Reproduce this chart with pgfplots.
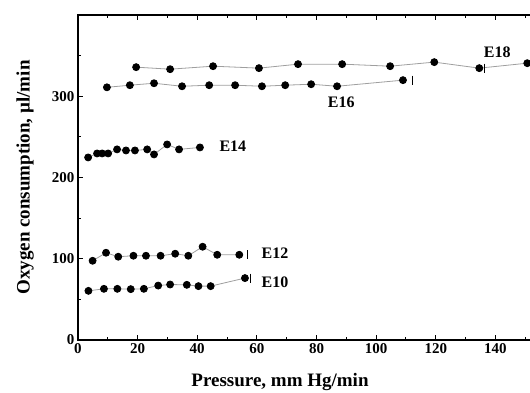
\documentclass[border=0pt]{standalone}
\usepackage{fontspec}
\setmainfont{Liberation Serif}
\usepackage{pgfplots}
\pgfplotsset{compat=1.18}
\begin{document}
\begin{tikzpicture}
\begin{axis}[
  at={(0,0)}, anchor=south west,
  scale only axis, width=477pt, height=325pt,
  xmin=0, xmax=160, ymin=0, ymax=400,
  xtick={0,20,...,140}, ytick={0,100,200,300},
  minor xtick={10,30,...,150}, minor ytick={50,150,250,350},
  extra x ticks={160}, extra x tick labels={},
  tick align=inside,
  xtick pos=both, ytick pos=left,
  major tick length=5pt, minor tick length=3pt,
  axis line style={line width=1.3pt},
  every tick/.style={line width=1pt, black},
  /pgf/number format/assume math mode=true,
  tick label style={font=\fontsize{15}{15}\selectfont\bfseries},
  xlabel={Pressure, mm Hg/min},
  ylabel={Oxygen consumption, µl/min},
  label style={font=\fontsize{19}{19}\selectfont\bfseries},
  x label style={at={(axis description cs:0.4235,-0.13)}, anchor=center},
  y label style={at={(axis description cs:-0.111,0.5)}, anchor=center, rotate=0},
  clip=false,
  ser/.style={draw=gray!75, line width=0.8pt, mark=*, mark size=3.5pt,
     mark options={fill=black, draw=black, solid}},
]
% E18
\addplot[ser] coordinates {(19.5,335.8) (30.9,333.3) (45.3,337) (60.7,334.6) (73.8,339.5) (88.6,339.5) (104.7,337) (119.5,342) (134.6,334.6) (150.7,340.7)};
% E16
\addplot[ser] coordinates {(9.7,311) (17.4,313.6) (25.5,316) (34.9,312.3) (44,313.6) (52.7,313.6) (61.7,312.3) (69.5,313.6) (78.2,314.8) (86.9,312.3) (109,319.8)};
% E14
\addplot[ser] coordinates {(3.4,224.7) (6.4,229.6) (8.1,229.6) (10.1,229.6) (13.1,234.6) (16.1,233.3) (19.1,233.3) (23.2,234.6) (25.5,228.4) (29.9,240.7) (33.9,234.6) (40.9,237)};
% E12
\addplot[ser] coordinates {(4.9,97.5) (9.4,107.4) (13.5,102.5) (18.6,103.7) (22.8,103.7) (27.7,103.7) (32.6,106.2) (37,103.7) (41.8,114.8) (46.7,104.9) (54.1,104.9)};
% E10
\addplot[ser] coordinates {(3.5,60.5) (8.7,63) (13.2,63) (17.7,62.6) (22.1,63) (26.9,67) (30.9,68.3) (36.5,67.9) (40.4,66.3) (44.5,66.3) (56,76.2)};
% end bars
\addplot[only marks, mark=|, mark size=4.5pt, mark options={draw=black, line width=0.8pt}] coordinates {(136.2,334.6) (112,319.8) (56.7,104.9) (57.8,76.2)};
\node[anchor=center, font=\fontsize{16}{16}\selectfont\bfseries] at (axis cs:140.6,354) {E18};
\node[anchor=center, font=\fontsize{16}{16}\selectfont\bfseries] at (axis cs:88.3,292.6) {E16};
\node[anchor=west, font=\fontsize{16}{16}\selectfont\bfseries] at (axis cs:46.3,238) {E14};
\node[anchor=west, font=\fontsize{16}{16}\selectfont\bfseries] at (axis cs:60.4,107) {E12};
\node[anchor=west, font=\fontsize{16}{16}\selectfont\bfseries] at (axis cs:60.4,71.6) {E10};
\end{axis}
\pgfresetboundingbox
\path[use as bounding box] (-78pt,-52pt) rectangle (452pt,340pt);
\end{tikzpicture}
\end{document}
